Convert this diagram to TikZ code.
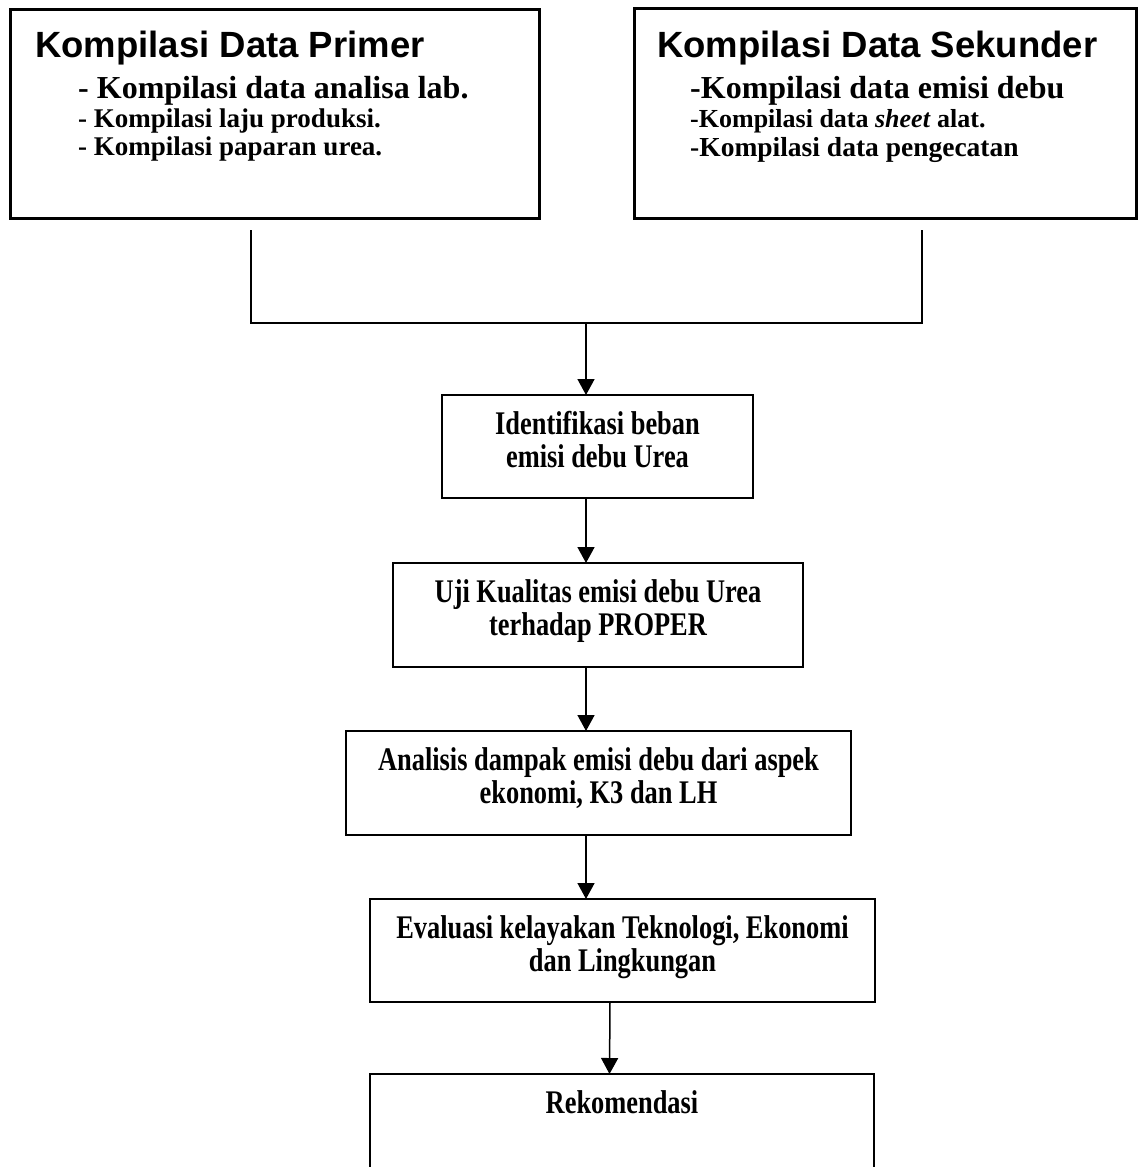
\documentclass[tikz,border=0pt]{standalone}
\usepackage{fontspec}
\setmainfont{Liberation Serif}
\newfontfamily\arialf{Liberation Sans}
\newfontfamily\condserif[FakeStretch=0.8]{Liberation Serif}
\usetikzlibrary{arrows.meta}
\begin{document}
\begin{tikzpicture}[x=1pt,y=-1pt,
 bigbox/.style={draw,line width=3pt,inner sep=0,outer sep=0,anchor=north west},
 flowbox/.style={draw,line width=2pt,inner sep=0,outer sep=0,anchor=north west},
 titletext/.style={anchor=base west,inner sep=0,font=\arialf\bfseries\fontsize{36.5}{40}\selectfont},
 bigitem/.style={anchor=base west,inner sep=0,font=\bfseries\fontsize{32}{38}\selectfont},
 smallitem/.style={anchor=base west,inner sep=0,font=\bfseries\fontsize{27}{32}\selectfont},
 boxtext/.style={anchor=north,inner sep=0,align=center,font=\condserif\bfseries\fontsize{33}{33}\selectfont},
 bracket/.style={line width=1.5pt},
 arr/.style={line width=1.5pt,-{Triangle[width=17pt,length=16pt]}}]
\useasboundingbox (0,0) rectangle (1139,1167);
\fill[white] (0,0) rectangle (1139,1167);

% top boxes
\node[bigbox,minimum width=529,minimum height=209] (prim) at (10,9) {};
\node[titletext] (primT) at (35,57) {Kompilasi Data Primer};
\node[bigitem] (primA) at (78,98) {- Kompilasi data analisa lab.};
\node[smallitem] (primB) at (78,127) {- Kompilasi laju produksi.};
\node[smallitem] (primC) at (78,155) {- Kompilasi paparan urea.};

\node[bigbox,minimum width=502,minimum height=210] (sek) at (634,8) {};
\node[titletext] (sekT) at (657,57) {Kompilasi Data Sekunder};
\node[bigitem] (sekA) at (690,98) {-Kompilasi data emisi debu};
\node[smallitem,font=\bfseries\fontsize{26}{32}\selectfont] (sekB) at (690,127) {-Kompilasi data \textit{sheet} alat.};
\node[smallitem,font=\bfseries\fontsize{27.5}{32}\selectfont] (sekC) at (690,156) {-Kompilasi data pengecatan};

% flow boxes
\node[flowbox,minimum width=311,minimum height=103] (box3) at (442,395) {};
\node[boxtext] (t3) at ([yshift=-16pt]box3.north) {Identifikasi beban\\emisi debu Urea};

\node[flowbox,minimum width=410,minimum height=104] (box4) at (393,563) {};
\node[boxtext] (t4) at ([yshift=-16pt]box4.north) {Uji Kualitas emisi debu Urea\\terhadap PROPER};

\node[flowbox,minimum width=505,minimum height=104] (box5) at (346,731) {};
\node[boxtext] (t5) at ([yshift=-16pt]box5.north) {Analisis dampak emisi debu dari aspek\\ekonomi, K3 dan LH};

\node[flowbox,minimum width=505,minimum height=103] (box6) at (370,899) {};
\node[boxtext] (t6) at ([yshift=-16pt]box6.north) {Evaluasi kelayakan Teknologi, Ekonomi\\dan Lingkungan};

\node[flowbox,minimum width=504,minimum height=120] (box7) at (370,1074) {};
\node[boxtext] (t7) at ([yshift=-16pt]box7.north) {Rekomendasi};

% connectors
\coordinate (spine) at (586,323);
\draw[bracket] ([shift={(-23.5,12)}]prim.south) |- (spine) -| ([shift={(37,12)}]sek.south);
\draw[arr] (spine) -- (spine |- box3.north);
\draw[arr] (box3.south -| spine) -- (box4.north -| spine);
\draw[arr] (box4.south -| spine) -- (box5.north -| spine);
\draw[arr] (box5.south -| spine) -- (box6.north -| spine);
\draw[arr] ([xshift=-12.5pt]box6.south) -- ([xshift=-12.5pt]box7.north);
\end{tikzpicture}
\end{document}
